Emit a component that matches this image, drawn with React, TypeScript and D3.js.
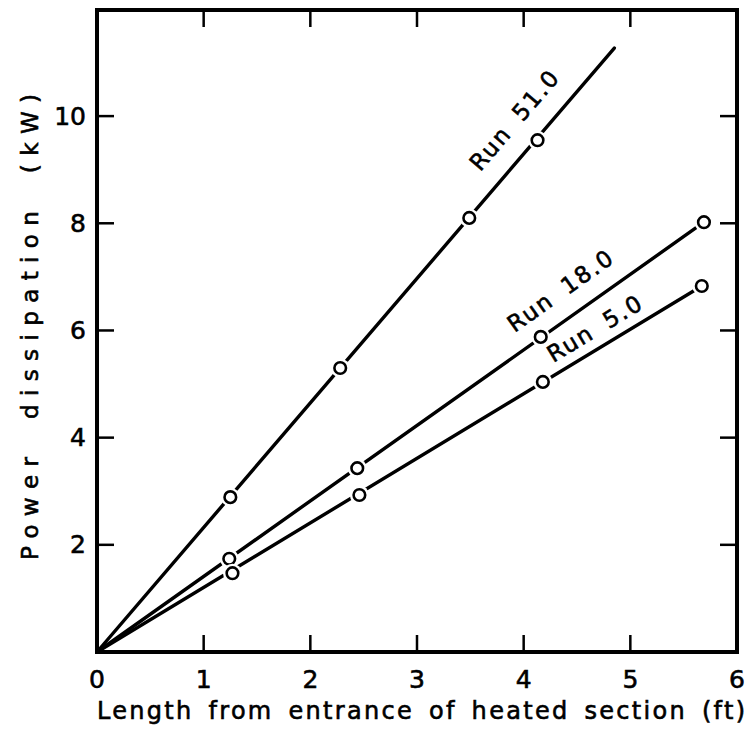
import React from "react";
import * as d3 from "d3";

// Measured runs: length along heated section (ft) vs. cumulative power (kW)
const run51X = [1.25, 2.28, 3.49, 4.13];
const run51Y = [2.89, 5.3, 8.1, 9.55];
const run18X = [1.24, 2.44, 4.16, 5.69];
const run18Y = [1.74, 3.43, 5.88, 8.02];
const run5X = [1.27, 2.46, 4.18, 5.67];
const run5Y = [1.47, 2.93, 5.04, 6.83];

// End points of the straight lines drawn from the origin through each run
const lineEndX = [4.85, 5.69, 5.67];
const lineEndY = [11.27, 8.02, 6.83];
const runNames = ["Run 51.0", "Run 18.0", "Run 5.0"];

const xTicks = [0, 1, 2, 3, 4, 5, 6];
const yTicks = [2, 4, 6, 8, 10];
const xTitle = "Length from entrance of heated section (ft)";
const yTitle = "Power dissipation (kW)";

const W = 752;
const H = 738;
const left = 97;
const right = 737;
const top = 10;
const bottom = 652;

const FONT = "'DejaVu Sans', sans-serif";

export default function App() {
  const x = d3.scaleLinear().domain([0, 6]).range([left, right]);
  const y = d3.scaleLinear().domain([0, 11.98]).range([bottom, top]);

  const series = [
    { xs: run51X, ys: run51Y },
    { xs: run18X, ys: run18Y },
    { xs: run5X, ys: run5Y },
  ];

  const line = d3
    .line<[number, number]>()
    .x((d) => x(d[0]))
    .y((d) => y(d[1]));

  // label placement: fraction along each line, perpendicular offset (px)
  const labelPos = [
    { t: 0.85, off: -29 },
    { t: 0.79, off: -27 },
    { t: 0.84, off: -19 },
  ];

  const tickLen = 17;
  const ink = { fill: "#000", stroke: "#000", strokeWidth: 0.6 };

  return (
    <svg width={W} height={H} style={{ display: "block", position: "absolute", left: 0, top: 0 }}>
      <rect x={0} y={0} width={W} height={H} fill="#fff" />

      {/* fitted lines */}
      {series.map((s, i) => (
        <path
          key={"l" + i}
          d={line([
            [0, 0],
            [lineEndX[i], lineEndY[i]],
          ]) as string}
          fill="none"
          stroke="#000"
          strokeWidth={3.4}
          strokeLinecap="round"
        />
      ))}

      {/* markers with a white gap around them */}
      {series.map((s, i) =>
        s.xs.map((xv, j) => (
          <g key={"m" + i + "-" + j}>
            <circle cx={x(xv)} cy={y(s.ys[j])} r={9.5} fill="#fff" />
            <circle cx={x(xv)} cy={y(s.ys[j])} r={5.8} fill="#fff" stroke="#000" strokeWidth={2.6} />
          </g>
        ))
      )}

      {/* run labels along the lines */}
      {runNames.map((name, i) => {
        const x0 = x(0);
        const y0 = y(0);
        const x1 = x(lineEndX[i]);
        const y1 = y(lineEndY[i]);
        const dx = x1 - x0;
        const dy = y1 - y0;
        const len = Math.hypot(dx, dy);
        const ang = (Math.atan2(dy, dx) * 180) / Math.PI;
        const nx = dy / len;
        const ny = -dx / len;
        const p = labelPos[i];
        const cx = x0 + dx * p.t - nx * p.off;
        const cy = y0 + dy * p.t - ny * p.off;
        return (
          <text
            key={"t" + i}
            x={cx}
            y={cy}
            transform={`rotate(${ang} ${cx} ${cy})`}
            textAnchor="middle"
            dominantBaseline="central"
            fontFamily={FONT}
            fontSize={23}
            letterSpacing={2}
            wordSpacing={6}
            {...ink}
          >
            {name}
          </text>
        );
      })}

      {/* frame */}
      <rect
        x={left}
        y={top}
        width={right - left}
        height={bottom - top}
        fill="none"
        stroke="#000"
        strokeWidth={4}
      />

      {/* inward ticks on all sides */}
      {xTicks
        .filter((t) => t > 0 && t < 6)
        .map((t) => (
          <g key={"xt" + t}>
            <line x1={x(t)} x2={x(t)} y1={bottom} y2={bottom - tickLen} stroke="#000" strokeWidth={2.5} />
            <line x1={x(t)} x2={x(t)} y1={top} y2={top + tickLen} stroke="#000" strokeWidth={2.5} />
          </g>
        ))}
      {yTicks.map((t) => (
        <g key={"yt" + t}>
          <line x1={left} x2={left + tickLen} y1={y(t)} y2={y(t)} stroke="#000" strokeWidth={2.5} />
          <line x1={right} x2={right - tickLen} y1={y(t)} y2={y(t)} stroke="#000" strokeWidth={2.5} />
        </g>
      ))}

      {/* tick labels */}
      {xTicks.map((t) => (
        <text
          key={"xl" + t}
          x={x(t)}
          y={688}
          textAnchor="middle"
          fontFamily={FONT}
          fontSize={25}
          {...ink}
        >
          {t}
        </text>
      ))}
      {yTicks.map((t) => (
        <text
          key={"yl" + t}
          x={86}
          y={y(t)}
          textAnchor="end"
          dominantBaseline="central"
          fontFamily={FONT}
          fontSize={25}
          {...ink}
        >
          {t}
        </text>
      ))}

      {/* axis titles */}
      <text
        x={97}
        y={719}
        fontFamily={FONT}
        fontSize={24}
        wordSpacing={5}
        textLength={648}
        lengthAdjust="spacing"
        {...ink}
      >
        {xTitle}
      </text>
      <text
        transform="translate(38 560) rotate(-90)"
        x={0}
        y={0}
        fontFamily={FONT}
        fontSize={23}
        wordSpacing={14}
        textLength={466}
        lengthAdjust="spacing"
        {...ink}
      >
        {yTitle}
      </text>
    </svg>
  );
}
